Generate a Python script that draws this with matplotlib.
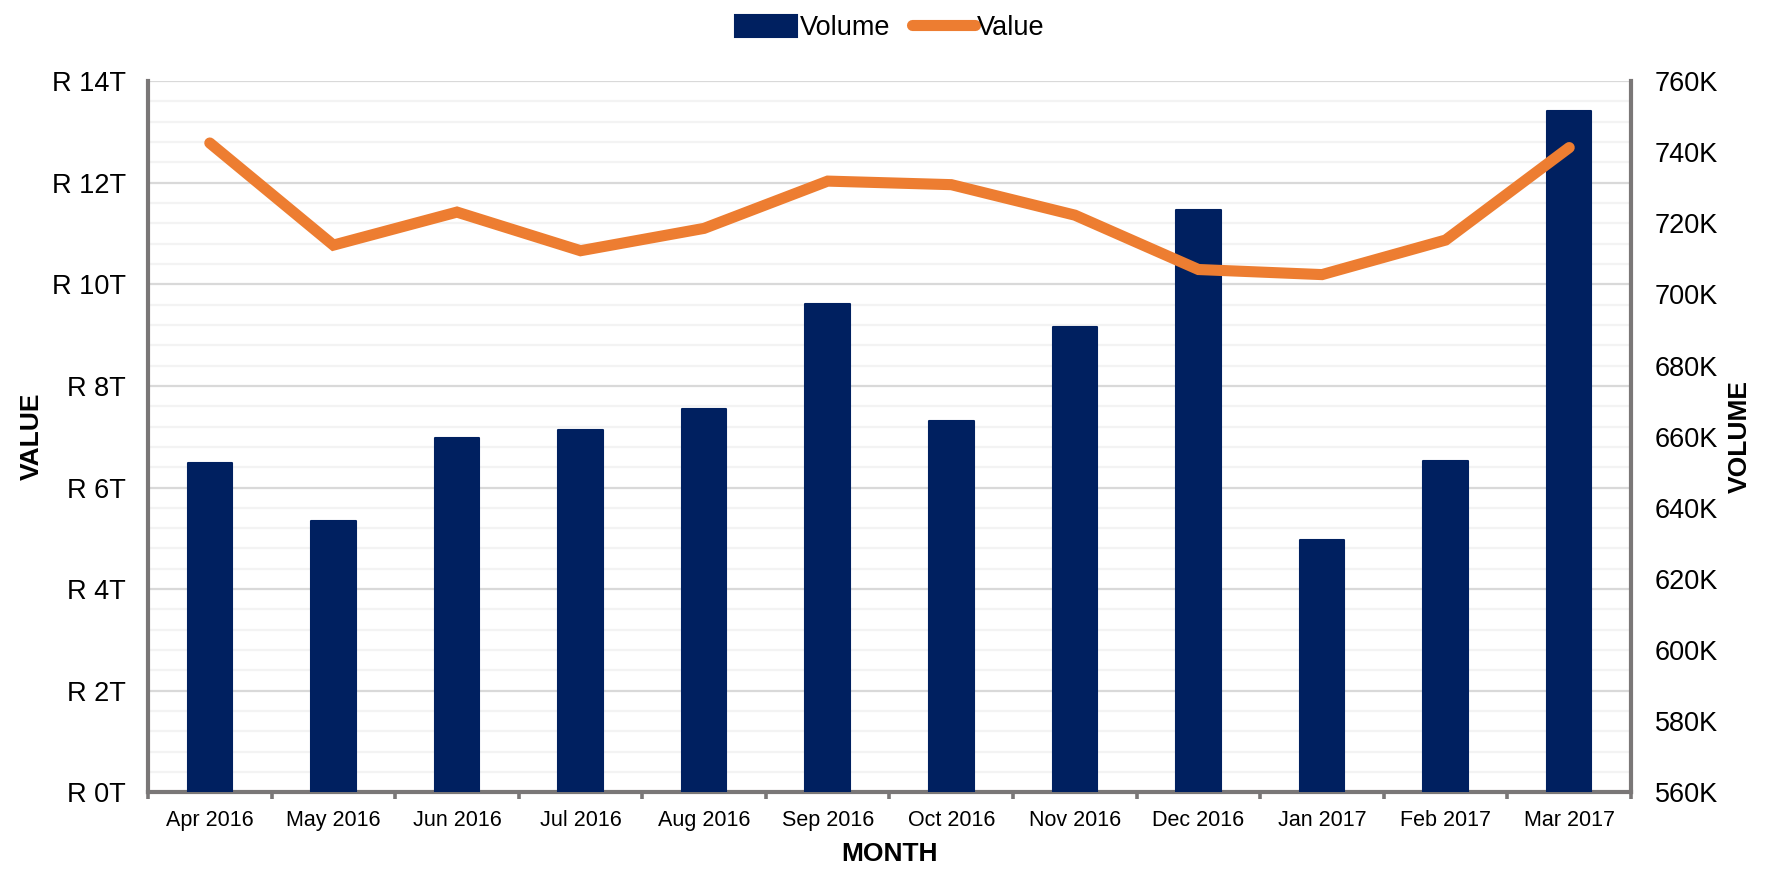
import numpy as np
import matplotlib
matplotlib.use("Agg")
import matplotlib.pyplot as plt
from matplotlib.ticker import FixedLocator, MultipleLocator, FuncFormatter

plt.rcParams['font.family'] = ['Liberation Sans', 'DejaVu Sans']

# data
months = ["Apr 2016", "May 2016", "Jun 2016", "Jul 2016", "Aug 2016", "Sep 2016",
          "Oct 2016", "Nov 2016", "Dec 2016", "Jan 2017", "Feb 2017", "Mar 2017"]
volume_k = [652.5, 636.4, 659.7, 661.9, 667.8, 697.4, 664.4, 690.8, 723.8, 631.0, 653.2, 751.6]
value_t = [12.78, 10.77, 11.42, 10.66, 11.10, 12.03, 11.96, 11.36, 10.29, 10.19, 10.87, 12.69]

navy = "#002060"
orange = "#ED7D31"
spine_col = "#7a7777"

fig = plt.figure(figsize=(17.68, 8.72), dpi=100)
ax = fig.add_axes([148 / 1768, 1 - 792.4 / 872, (1631 - 148) / 1768, (792.4 - 81) / 872])
ax2 = ax.twinx()

x = np.arange(len(months))

# grid on the value axis, behind the bars
ax.set_ylim(0, 14)
ax.yaxis.set_major_locator(MultipleLocator(2))
ax.yaxis.set_minor_locator(MultipleLocator(0.4))
ax.grid(True, which="major", axis="y", color="#d9d9d9", lw=1.6)
ax.grid(True, which="minor", axis="y", color="#f3f3f3", lw=1.6)
ax.set_axisbelow(True)

bars = ax2.bar(x, volume_k, width=0.36, bottom=0, color=navy, edgecolor=navy,
               linewidth=1.5, joinstyle="round", label="Volume", zorder=2)
line, = ax2.plot(x, value_t, color=orange, lw=8, solid_capstyle="round",
                 solid_joinstyle="miter", transform=ax.transData, label="Value", zorder=3)

ax2.set_ylim(560, 760)
ax2.yaxis.set_major_locator(MultipleLocator(20))
ax.set_xlim(-0.5, len(months) - 0.5)
ax2.set_xlim(-0.5, len(months) - 0.5)

ax.yaxis.set_major_formatter(FuncFormatter(lambda v, p: f"R {v:.0f}T"))
ax2.yaxis.set_major_formatter(FuncFormatter(lambda v, p: f"{v:.0f}K"))

ax.set_xticks(x)
ax.set_xticklabels(months)
ax.xaxis.set_minor_locator(FixedLocator(np.arange(-0.5, len(months), 1.0)))
ax.tick_params(axis="x", which="major", length=0, pad=13, labelsize=15.5)
ax.tick_params(axis="x", which="minor", length=5, width=2.6, color=spine_col)
ax.tick_params(axis="y", which="both", length=0, pad=16, labelsize=19.5)
ax2.tick_params(axis="y", which="both", length=0, pad=17, labelsize=19.5)

for a in (ax, ax2):
    a.spines["top"].set_visible(False)
    for s in ("left", "right", "bottom"):
        a.spines[s].set_color(spine_col)
        a.spines[s].set_linewidth(3)
ax2.spines["bottom"].set_visible(False)
ax2.spines["left"].set_visible(False)
ax.spines["right"].set_visible(False)

fig.text(32 / 1768, 1 - 436.5 / 872, "VALUE", rotation=90, ha="center", va="center",
         fontsize=19, fontweight="bold")
fig.text(1740 / 1768, 1 - 436.5 / 872, "VOLUME", rotation=90, ha="center", va="center",
         fontsize=19, fontweight="bold")
fig.text(889.5 / 1768, 1 - 853.6 / 872, "MONTH", ha="center", va="center",
         fontsize=19, fontweight="bold")

fig.legend(handles=[bars, line], labels=["Volume", "Value"], loc="center",
           bbox_to_anchor=(890 / 1768, 1 - 28 / 872), ncol=2, frameon=False, fontsize=19.5,
           handlelength=2.3, handleheight=0.9, handletextpad=0.1, columnspacing=0.8)

fig.savefig("out.png", dpi=100)
